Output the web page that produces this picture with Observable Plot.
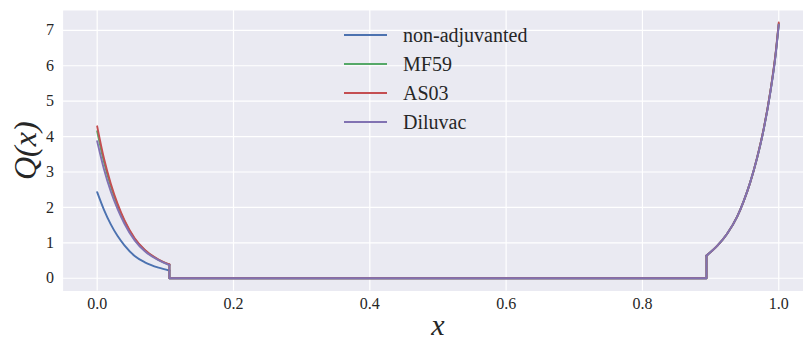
<!DOCTYPE html>
<html><head><meta charset="utf-8">
<script src="https://cdn.jsdelivr.net/npm/d3@7"></script>
<script src="https://cdn.jsdelivr.net/npm/@observablehq/plot@0.6"></script>
<style>
body{margin:0;background:#fff;}
#chart{position:relative;width:803px;height:339px;}
#legend{position:absolute;left:344px;top:20.5px;font-size:20px;color:#262626;font-family:'Liberation Serif', serif;}
.item{display:flex;align-items:center;height:29px;white-space:nowrap;}
.sw{width:43px;height:0;border-top:2px solid;margin-right:16px;}
#chart svg text{font-family:'Liberation Serif', serif;}
</style></head><body><div id="chart"></div>
<script>
// ---- data ----
const seriesNames = ["non-adjuvanted", "MF59", "AS03", "Diluvac"];
const seriesColors = ["#4C72B0", "#55A868", "#C44E52", "#8172B2"];
const xTicks = [0, 0.2, 0.4, 0.6, 0.8, 1.0];
const yTicks = [0, 1, 2, 3, 4, 5, 6, 7];

// left-hand decaying part
const xLeft = [0, 0.01, 0.02, 0.03, 0.04, 0.055, 0.07, 0.09, 0.106];
const qLeftNonAdj = [2.43, 1.93, 1.52, 1.19, 0.93, 0.63, 0.45, 0.30, 0.22];
const qLeftMF59   = [4.15, 3.28, 2.60, 2.05, 1.61, 1.11, 0.79, 0.52, 0.38];
const qLeftAS03   = [4.29, 3.38, 2.67, 2.10, 1.64, 1.13, 0.80, 0.53, 0.39];
const qLeftDiluv  = [3.87, 3.08, 2.45, 1.95, 1.54, 1.07, 0.76, 0.51, 0.37];

// zero plateau between the two jumps
const xPlateau = [0.106, 0.894];

// right-hand growing part
const xRight = [0.894, 0.91, 0.924, 0.939, 0.949, 0.958, 0.968, 0.978, 0.988, 0.995, 1.0];
const qRightNonAdj = [0.64, 0.92, 1.25, 1.74, 2.20, 2.70, 3.38, 4.22, 5.30, 6.25, 7.17];
const qRightMF59   = [0.64, 0.92, 1.25, 1.74, 2.20, 2.70, 3.38, 4.22, 5.31, 6.27, 7.19];
const qRightAS03   = [0.64, 0.92, 1.25, 1.74, 2.20, 2.70, 3.39, 4.23, 5.32, 6.29, 7.22];
const qRightDiluv  = [0.64, 0.92, 1.25, 1.74, 2.20, 2.70, 3.38, 4.21, 5.29, 6.24, 7.16];

const leftBySeries = [qLeftNonAdj, qLeftMF59, qLeftAS03, qLeftDiluv];
const rightBySeries = [qRightNonAdj, qRightMF59, qRightAS03, qRightDiluv];

// ---- build tables ----
const curveRows = [];
const stepRows = [];
seriesNames.forEach((s, i) => {
  const L = leftBySeries[i], R = rightBySeries[i];
  xLeft.forEach((x, j) => curveRows.push({series: s, piece: s + "-L", x, q: L[j]}));
  xRight.forEach((x, j) => curveRows.push({series: s, piece: s + "-R", x, q: R[j]}));
  stepRows.push({series: s, x: xPlateau[0], q: L[L.length - 1]});
  stepRows.push({series: s, x: xPlateau[0], q: 0});
  stepRows.push({series: s, x: xPlateau[1], q: 0});
  stepRows.push({series: s, x: xPlateau[1], q: R[0]});
});

const lineMarks = seriesNames.flatMap(s => [
  Plot.line(curveRows.filter(d => d.series === s), {x: "x", y: "q", z: "piece", stroke: "series", strokeWidth: 1.9, curve: "monotone-x"}),
  Plot.line(stepRows.filter(d => d.series === s), {x: "x", y: "q", stroke: "series", strokeWidth: 1.9})
]);

const FONT = "'Liberation Serif', serif";
const chart = Plot.plot({
  width: 803, height: 339,
  marginLeft: 62.6, marginRight: 0, marginTop: 10, marginBottom: 48.5,
  style: {fontFamily: FONT, fontSize: "16px", color: "#262626", background: "transparent"},
  x: {domain: [-0.05, 1.0363]},
  y: {domain: [-0.36, 7.56]},
  color: {domain: seriesNames, range: seriesColors},
  marks: [
    Plot.frame({fill: "#EAEAF2", stroke: "none"}),
    Plot.gridX(xTicks, {stroke: "white", strokeOpacity: 1, strokeWidth: 1.2}),
    Plot.gridY(yTicks, {stroke: "white", strokeOpacity: 1, strokeWidth: 1.2}),
    Plot.axisX(xTicks, {tickSize: 0, tickPadding: 7, tickFormat: d3.format(".1f"), label: null}),
    Plot.axisY(yTicks, {tickSize: 0, tickPadding: 9, label: null}),
    ...lineMarks,
    Plot.text(["Q(x)"], {frameAnchor: "left", textAnchor: "middle", lineAnchor: "middle", rotate: -90, dx: -37, fontSize: 32, fontStyle: "italic"}),
    Plot.text(["x"], {frameAnchor: "bottom", textAnchor: "middle", lineAnchor: "bottom", dx: 4.5, dy: 44, fontSize: 30, fontStyle: "italic"})
  ]
});

const host = document.getElementById("chart");
host.appendChild(chart);
const legend = document.createElement("div");
legend.id = "legend";
seriesNames.forEach((s, i) => {
  const item = document.createElement("div");
  item.className = "item";
  const sw = document.createElement("span");
  sw.className = "sw";
  sw.style.borderTopColor = seriesColors[i];
  const label = document.createElement("span");
  label.textContent = s;
  item.appendChild(sw);
  item.appendChild(label);
  legend.appendChild(item);
});
host.appendChild(legend);
</script></body></html>
